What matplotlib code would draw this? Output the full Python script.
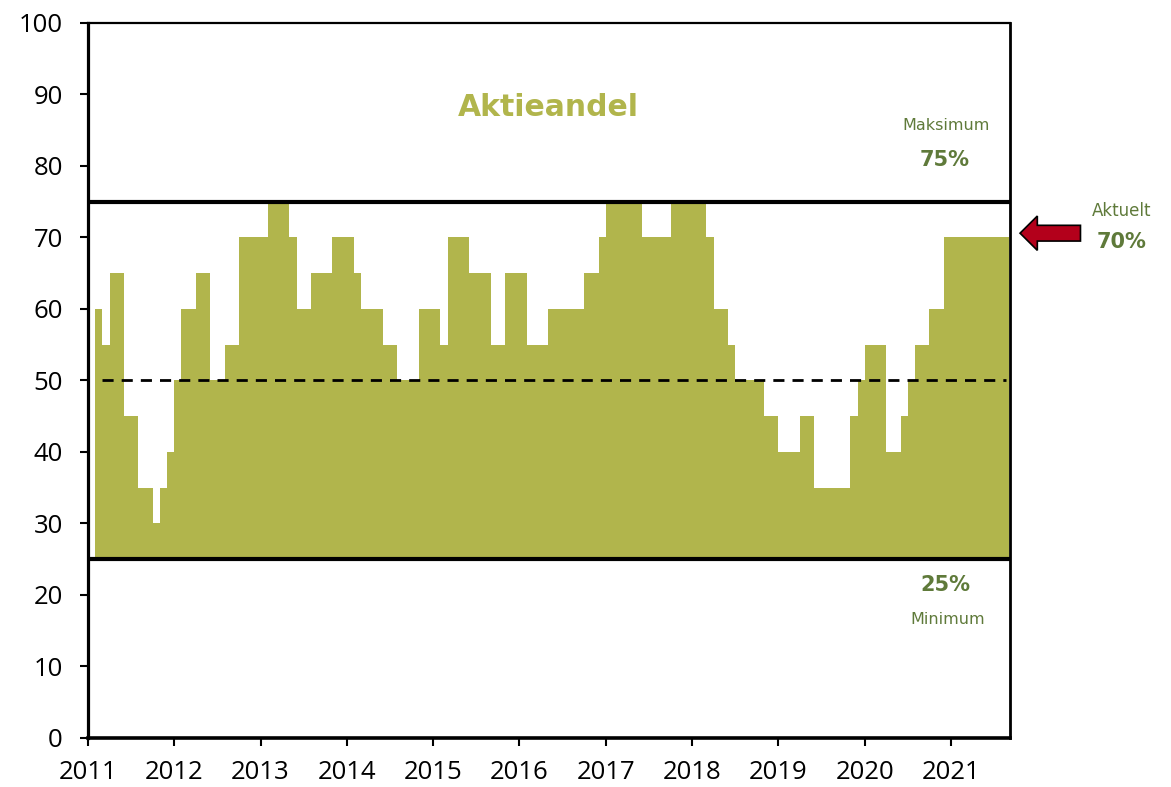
import numpy as np
import matplotlib.pyplot as plt
from matplotlib.patches import FancyArrow

# Aktieandel, maanedlig (feb 2011 - aug 2021), i procent
andel_verdier = [60, 55, 65, 65, 45, 45, 35, 35, 30, 35, 40,
                 50, 60, 60, 65, 65, 50, 50, 55, 55, 70, 70, 70,
                 70, 75, 75, 75, 70, 60, 60, 65, 65, 65, 70, 70,
                 70, 65, 60, 60, 60, 55, 55, 50, 50, 50, 60, 60,
                 60, 55, 70, 70, 70, 65, 65, 65, 55, 55, 65, 65,
                 65, 55, 55, 55, 60, 60, 60, 60, 60, 65, 65, 70,
                 75, 75, 75, 75, 75, 70, 70, 70, 70, 75, 75, 75,
                 75, 75, 70, 60, 60, 55, 50, 50, 50, 50, 45, 45,
                 40, 40, 40, 45, 45, 35, 35, 35, 35, 35, 45, 50,
                 55, 55, 55, 40, 40, 45, 50, 55, 55, 60, 60, 70,
                 70, 70, 70, 70, 70, 70, 70, 70]
maaneder = np.arange(1, len(andel_verdier) + 1)   # maaneder efter jan 2011
aar = list(range(2011, 2022))
minimum = 25
maksimum = 75
neutral = 50
aktuelt = andel_verdier[-1]

groen = '#b1b54c'
tekst_groen = '#5f7a3a'

fig = plt.figure(figsize=(11.71, 7.87), dpi=100)
ax = fig.add_axes([0.0751, 0.0623, 0.7874, 0.9085])

vals = np.array(andel_verdier)
ax.bar(maaneder, vals - minimum, bottom=minimum, width=1.0, align='edge',
       color=groen, linewidth=0, zorder=1)

ax.axhline(maksimum, color='black', lw=3, zorder=3)
ax.axhline(minimum, color='black', lw=3, zorder=3)
ax.plot([maaneder[0] + 1, maaneder[-1] + 0.6], [neutral, neutral], color='black',
        lw=2, ls=(0, (4.0, 2.9)), zorder=3)

ax.set_xlim(0, 128.2)
ax.set_ylim(0, 100)
ax.set_yticks(range(0, 101, 10))
ax.set_xticks([(a - 2011) * 12 for a in aar])
ax.set_xticklabels([str(a) for a in aar], family='Open Sans', fontsize=18.5)
for lbl in ax.get_yticklabels():
    lbl.set_family('Open Sans')
    lbl.set_fontsize(18.5)
ax.tick_params(axis='y', length=6, width=1.5, pad=12)
ax.tick_params(axis='x', length=6, width=1.5, pad=10)

ax.spines['left'].set_linewidth(2.3)
ax.spines['bottom'].set_linewidth(2.6)
ax.spines['top'].set_linewidth(1.6)
ax.spines['right'].set_linewidth(2.0)

# tekster
fig.text(548 / 1171, 1 - 108 / 787, 'Aktieandel', color=groen, fontsize=21.5,
         fontweight='bold', ha='center', va='center')
fig.text(946 / 1171, 1 - 126 / 787, 'Maksimum', color=tekst_groen, fontsize=11.5,
         ha='center', va='center')
fig.text(945 / 1171, 1 - 160 / 787, f'{maksimum}%', color=tekst_groen, fontsize=15,
         fontweight='bold', ha='center', va='center')
fig.text(945 / 1171, 1 - 585 / 787, f'{minimum}%', color=tekst_groen, fontsize=15,
         fontweight='bold', ha='center', va='center')
fig.text(948 / 1171, 1 - 619 / 787, 'Minimum', color=tekst_groen, fontsize=11.5,
         ha='center', va='center')
fig.text(1122 / 1171, 1 - 211 / 787, 'Aktuelt', color=tekst_groen, fontsize=12,
         ha='center', va='center')
fig.text(1122 / 1171, 1 - 242 / 787, f'{aktuelt}%', color=tekst_groen, fontsize=15,
         fontweight='bold', ha='center', va='center')

# roed pil mod aktuel vaerdi
pil = FancyArrow(138.0, aktuelt + 0.6, -8.4, 0, width=2.2, head_width=4.8,
                 head_length=2.4, length_includes_head=True,
                 facecolor='#b3001b', edgecolor='black', lw=1.2, clip_on=False, zorder=5)
ax.add_patch(pil)

fig.savefig('out.png', dpi=100)
